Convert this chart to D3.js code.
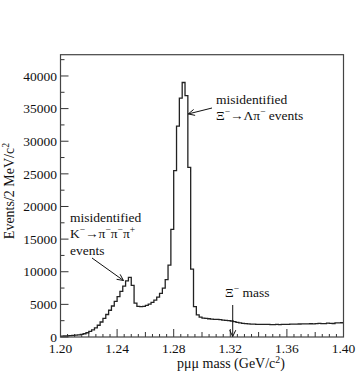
<!DOCTYPE html>
<html>
<head>
<meta charset="utf-8">
<script src="https://cdn.jsdelivr.net/npm/d3@7"></script>
<style>
  body { margin: 0; background: #fff; }
  text { font-family: "Liberation Serif", "Times New Roman", serif; fill: #111; }
</style>
</head>
<body>
<svg id="chart" width="360" height="374"></svg>
<script>
// p mu mu invariant mass, 2 MeV bins from 1.200 to 1.400 GeV
var binLow = 1.20;
var binWidth = 0.002;
var counts = [
   130,  150,  170,  200,  240,  280,  330,  400,  500,  650,
   850, 1100, 1400, 1800, 2300, 2850, 3450, 4100, 4750, 5450,
  6200, 7000, 7800, 8600, 9150, 7900, 5200, 4700, 4650, 4700,
  4850, 5050, 5300, 5650, 6100, 6700, 7500, 8800,11000,16500,
 25500,32300,36600,39000,37000,26000,10400, 4650, 3400, 3050,
  2900, 2850, 2800, 2750, 2700, 2700, 2650, 2600, 2550, 2500,
  2450, 2350, 2250, 2150, 2100, 2050, 2000, 1980, 1960, 1950,
  1950, 1930, 1920, 1930, 1910, 1900, 1920, 1900, 1930, 1950,
  1940, 1960, 1980, 1970, 1990, 2000, 2010, 2000, 2030, 2020,
  2050, 2080, 2040, 2060, 2120, 2080, 2070, 2150, 2160, 2180
];
var xTickLabels = [1.20, 1.24, 1.28, 1.32, 1.36, 1.40];
var yTickLabels = [0, 5000, 10000, 15000, 20000, 25000, 30000, 35000, 40000];
var xiMass = 1.3217;

var svg = d3.select("#chart");
var m = { left: 60.5, right: 343.5, top: 54.7, bottom: 337 };

var xScale = d3.scaleLinear().domain([1.20, 1.40]).range([m.left, m.right]);
var yScale = d3.scaleLinear().domain([0, 43260]).range([m.bottom, m.top]);

var ink = "#333";

// ticks on the bottom axis: 0.04 labelled, 0.02 medium, 0.005 small
var xMinor = d3.range(0, 41).map(function(i) { return { v: 1.20 + i * 0.005, i: i }; });
svg.append("g").selectAll("line")
  .data(xMinor)
  .enter().append("line")
    .attr("x1", function(d) { return xScale(d.v); })
    .attr("x2", function(d) { return xScale(d.v); })
    .attr("y1", m.bottom)
    .attr("y2", function(d) { return m.bottom - (d.i % 8 == 0 ? 8 : (d.i % 4 == 0 ? 5 : 3)); })
    .attr("stroke", ink)
    .attr("stroke-width", 1);

svg.append("g").selectAll("text")
  .data(xTickLabels)
  .enter().append("text")
    .attr("x", function(d) { return xScale(d); })
    .attr("y", 353)
    .attr("text-anchor", "middle")
    .style("font-size", "13.5px")
    .text(function(d) { return d.toFixed(2); });

// left axis: 5000 labelled, 2500 small
var yMinor = d3.range(0, 42501, 2500);
svg.append("g").selectAll("line")
  .data(yMinor)
  .enter().append("line")
    .attr("x1", m.left)
    .attr("x2", function(d) { return m.left + (d % 5000 == 0 ? 8 : 4); })
    .attr("y1", function(d) { return yScale(d); })
    .attr("y2", function(d) { return yScale(d); })
    .attr("stroke", ink)
    .attr("stroke-width", 1);

svg.append("g").selectAll("text")
  .data(yTickLabels)
  .enter().append("text")
    .attr("x", 57)
    .attr("y", function(d) { return yScale(d); })
    .attr("dy", "0.35em")
    .attr("text-anchor", "end")
    .style("font-size", "13.5px")
    .text(function(d) { return d; });

// histogram as a step line
var pts = counts.map(function(c, i) { return [binLow + i * binWidth, c]; });
pts.push([binLow + counts.length * binWidth, counts[counts.length - 1]]);

var toline = d3.line()
  .x(function(d) { return xScale(d[0]); })
  .y(function(d) { return yScale(d[1]); })
  .curve(d3.curveStepAfter);

svg.append("path")
  .datum(pts)
  .attr("d", toline)
  .attr("fill", "none")
  .attr("stroke", "#222")
  .attr("stroke-width", 1.3);

// frame
svg.append("rect")
  .attr("x", m.left).attr("y", m.top)
  .attr("width", m.right - m.left).attr("height", m.bottom - m.top)
  .attr("fill", "none")
  .attr("stroke", "#444")
  .attr("stroke-width", 1.2);

// text with superscripts: parts are [string, isSup]
function richText(x, y, parts, size) {
  var t = svg.append("text").attr("x", x).attr("y", y).style("font-size", size + "px");
  var raised = false;
  parts.forEach(function(p) {
    var s = t.append("tspan").text(p[0]);
    if (p[1] && !raised) { s.attr("dy", -5).style("font-size", (size * 0.7) + "px"); raised = true; }
    else if (p[1]) { s.style("font-size", (size * 0.7) + "px"); }
    else if (raised) { s.attr("dy", 5); raised = false; }
  });
  return t;
}

// axis titles
richText(0, 0, [["p\u03bc\u03bc mass (GeV/c", false], ["2", true], [")", false]], 14)
  .attr("x", 231).attr("y", 368).attr("text-anchor", "middle");

richText(0, 0, [["Events/2 MeV/c", false], ["2", true]], 14)
  .attr("text-anchor", "middle")
  .attr("transform", "translate(13.5,191) rotate(-90)");

// arrows for the annotations
function arrow(x1, y1, x2, y2) {
  var a = Math.atan2(y2 - y1, x2 - x1), len = 7, spread = 0.45;
  var g = svg.append("g").attr("stroke", "#111").attr("stroke-width", 1).attr("fill", "none");
  g.append("line").attr("x1", x1).attr("y1", y1).attr("x2", x2).attr("y2", y2);
  g.append("path").attr("d",
    "M" + (x2 - len * Math.cos(a - spread)) + "," + (y2 - len * Math.sin(a - spread)) +
    "L" + x2 + "," + y2 +
    "L" + (x2 - len * Math.cos(a + spread)) + "," + (y2 - len * Math.sin(a + spread)));
}

var minus = "\u2212";

// Xi -> Lambda pi label
richText(216, 104, [["misidentified", false]], 13.5);
richText(216, 120, [["\u039e", false], [minus, true], ["\u2192\u039b\u03c0", false], [minus, true], [" events", false]], 13.5);
arrow(212, 108, xScale(1.2903), yScale(34180));

// K -> pi pi pi label
richText(70, 222, [["misidentified", false]], 13.5);
richText(70, 238, [["K", false], [minus, true], ["\u2192\u03c0", false], [minus, true], ["\u03c0", false], [minus, true], ["\u03c0", false], ["+", true]], 13.5);
richText(70, 255, [["events", false]], 13.5);
arrow(92, 258, xScale(1.2445), yScale(8660));

// Xi mass marker
richText(225, 296.5, [["\u039e", false], [minus, true], [" mass", false]], 13.5);
arrow(xScale(xiMass), 305, xScale(xiMass), m.bottom - 0.5);
</script>
</body>
</html>
